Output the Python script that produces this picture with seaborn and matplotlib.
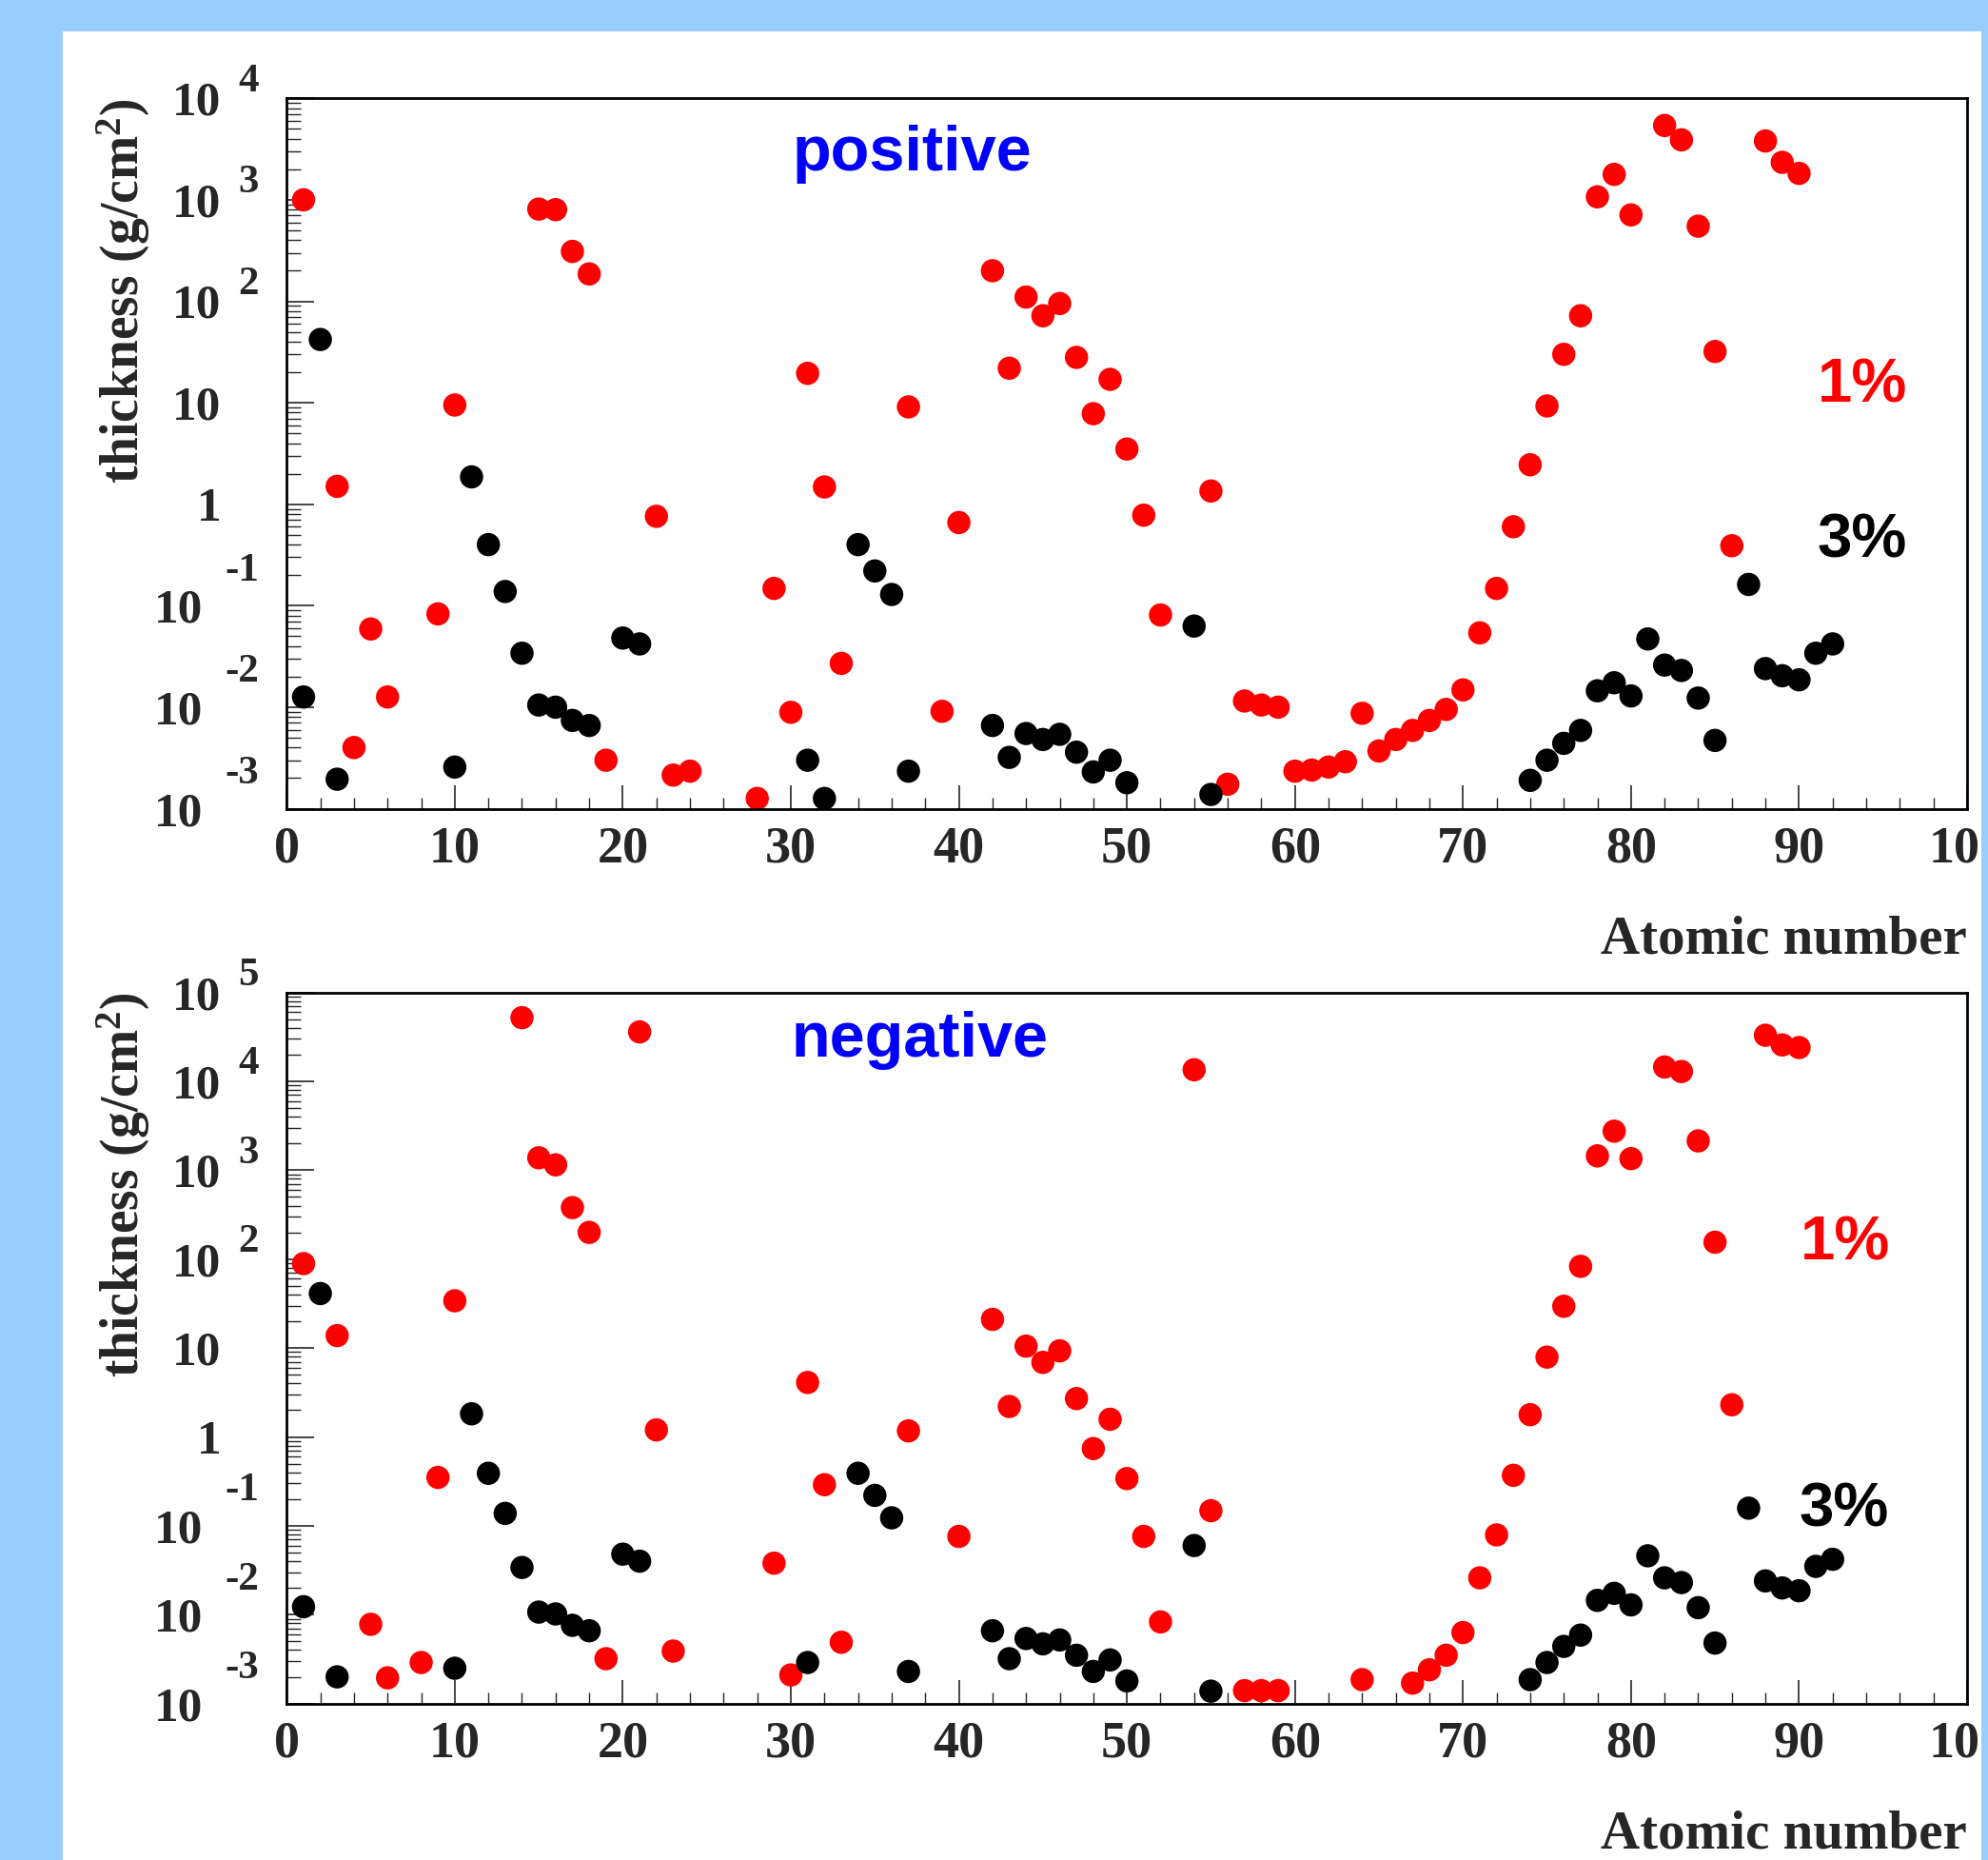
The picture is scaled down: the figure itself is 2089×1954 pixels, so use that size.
import pandas as pd
import seaborn as sns
import matplotlib.pyplot as plt
from matplotlib.patches import Rectangle
from matplotlib.transforms import offset_copy
from matplotlib.ticker import FixedLocator, NullFormatter, MultipleLocator, LogLocator

# ---- data (atomic number Z, thickness in g/cm^2) ----
pos_z_1pct = [1, 3, 4, 5, 6, 9, 10, 15, 16, 17, 18, 19, 22, 23, 24, 28, 29, 30, 31, 32, 33,
              37, 39, 40, 42, 43, 44, 45, 46, 47, 48, 49, 50, 51, 52, 55, 56, 57, 58, 59,
              60, 61, 62, 63, 64, 65, 66, 67, 68, 69, 70, 71, 72, 73, 74, 75, 76, 77, 78,
              79, 80, 82, 83, 84, 85, 86, 88, 89, 90]
pos_t_1pct = [1000, 1.5, 0.0040, 0.059, 0.0126, 0.083, 9.5, 810, 800, 310, 186, 0.0030, 0.76,
              0.00214, 0.00234, 0.00126, 0.148, 0.0089, 19.5, 1.48, 0.027, 9.1, 0.0091, 0.66,
              200, 21.9, 110, 72, 95, 28, 7.8, 17, 3.5, 0.78, 0.081, 1.35, 0.00174, 0.0115,
              0.0105, 0.0100, 0.00234, 0.0024, 0.00257, 0.0029, 0.0087, 0.0037, 0.0048, 0.0059,
              0.0074, 0.0095, 0.0148, 0.054, 0.148, 0.60, 2.45, 9.3, 30, 72, 1070, 1780, 710,
              5400, 3900, 550, 32, 0.39, 3800, 2340, 1820]

pos_z_3pct = [1, 2, 3, 10, 11, 12, 13, 14, 15, 16, 17, 18, 20, 21, 31, 32, 34, 35, 36, 37,
              42, 43, 44, 45, 46, 47, 48, 49, 50, 54, 55, 74, 75, 76, 77, 78, 79, 80, 81, 82,
              83, 84, 85, 87, 88, 89, 90, 91, 92]
pos_t_3pct = [0.0126, 42, 0.00195, 0.00257, 1.86, 0.40, 0.138, 0.034, 0.0105, 0.0100, 0.0074,
              0.0066, 0.048, 0.042, 0.0030, 0.00126, 0.40, 0.22, 0.129, 0.00234, 0.0066,
              0.0032, 0.0055, 0.0048, 0.0054, 0.0036, 0.0023, 0.0030, 0.0018, 0.063, 0.00138,
              0.0019, 0.0030, 0.0044, 0.0059, 0.0145, 0.0174, 0.0129, 0.047, 0.026, 0.023,
              0.0123, 0.0047, 0.162, 0.024, 0.0204, 0.0186, 0.034, 0.042]

neg_z_1pct = [1, 3, 5, 6, 8, 9, 10, 14, 15, 16, 17, 18, 19, 21, 22, 23, 29, 30, 31, 32, 33,
              37, 40, 42, 43, 44, 45, 46, 47, 48, 49, 50, 51, 52, 54, 55, 57, 58, 59, 64,
              67, 68, 69, 70, 71, 72, 73, 74, 75, 76, 77, 78, 79, 80, 82, 83, 84, 85, 86,
              88, 89, 90]
neg_t_1pct = [89, 13.8, 0.0078, 0.00195, 0.0029, 0.35, 34, 52000, 1380, 1150, 380, 200,
              0.0032, 36000, 1.2, 0.0039, 0.038, 0.0021, 4.1, 0.29, 0.0049, 1.17, 0.076, 21,
              2.2, 10.5, 6.9, 9.3, 2.7, 0.74, 1.58, 0.34, 0.076, 0.0083, 13500, 0.148,
              0.0014, 0.0014, 0.0014, 0.00186, 0.0017, 0.0024, 0.0035, 0.0063, 0.026, 0.079,
              0.37, 1.78, 7.9, 29.5, 83, 1450, 2750, 1350, 14500, 12900, 2140, 155, 2.3,
              33000, 25700, 24000]

neg_z_3pct = [1, 2, 3, 10, 11, 12, 13, 14, 15, 16, 17, 18, 20, 21, 31, 34, 35, 36, 37, 42,
              43, 44, 45, 46, 47, 48, 49, 50, 54, 55, 74, 75, 76, 77, 78, 79, 80, 81, 82, 83,
              84, 85, 87, 88, 89, 90, 91, 92]
neg_t_3pct = [0.0123, 41, 0.0020, 0.0025, 1.82, 0.39, 0.138, 0.034, 0.0107, 0.0102, 0.0076,
              0.0066, 0.048, 0.040, 0.0029, 0.39, 0.22, 0.123, 0.0023, 0.0066, 0.0032,
              0.0054, 0.0047, 0.0052, 0.0035, 0.0023, 0.0031, 0.0018, 0.060, 0.00138,
              0.00186, 0.0029, 0.0044, 0.0059, 0.0145, 0.0174, 0.0129, 0.046, 0.026, 0.023,
              0.012, 0.0048, 0.158, 0.024, 0.020, 0.0186, 0.035, 0.042]

# decades shown on the y axes
pos_decades = [-3, -2, -1, 0, 1, 2, 3, 4]
neg_decades = [-3, -2, -1, 0, 1, 2, 3, 4, 5]

BG_BLUE = "#99CCFF"
SERIF = "Liberation Serif"
SANS = "Liberation Sans"

sns.set_style("ticks")
plt.rcParams["font.family"] = [SERIF, "DejaVu Serif"]
plt.rcParams["font.weight"] = "bold"
plt.rcParams["mathtext.fontset"] = "custom"
plt.rcParams["mathtext.rm"] = "Liberation Serif:bold"
plt.rcParams["mathtext.it"] = "Liberation Serif:bold"
plt.rcParams["mathtext.bf"] = "Liberation Serif:bold"


def to_frame(z1, t1, z3, t3):
    df1 = pd.DataFrame({"Z": z1, "thickness": t1, "level": "1%"})
    df3 = pd.DataFrame({"Z": z3, "thickness": t3, "level": "3%"})
    return pd.concat([df1, df3], ignore_index=True)


def root_ylabels(ax, decades):
    # ROOT style decade labels: "10" on the tick, exponent raised to the right
    trans = ax.get_yaxis_transform()
    for e in decades:
        y = 10.0 ** e
        if e in (0, 1):
            ax.text(-0.039, y, "1" if e == 0 else "10", transform=trans,
                    ha="right", va="center_baseline", fontsize=37, fontweight="bold",
                    family=SERIF, clip_on=False)
        elif e > 0:
            ax.text(-0.039, y, "10", transform=trans, ha="right", va="center_baseline",
                    fontsize=37, fontweight="bold", family=SERIF, clip_on=False)
            ax.text(-0.029, y, str(e), ha="left", va="center_baseline", fontsize=31,
                    fontweight="bold", family=SERIF, clip_on=False,
                    transform=offset_copy(trans, fig=ax.figure, y=22, units="dots"))
        else:
            ax.text(-0.050, y, "10", transform=trans, ha="right", va="center_baseline",
                    fontsize=37, fontweight="bold", family=SERIF, clip_on=False)
            ax.text(-0.0366, y, str(e), ha="left", va="center_baseline", fontsize=31,
                    fontweight="bold", family=SERIF, clip_on=False,
                    transform=offset_copy(trans, fig=ax.figure, y=41, units="dots"))


def draw_panel(ax, df, decades, title, pos_1, pos_3):
    sns.scatterplot(data=df, x="Z", y="thickness", hue="level",
                    palette={"1%": "#ff0000", "3%": "black"},
                    s=310, linewidth=0, legend=False, ax=ax)
    ax.set_yscale("log")
    ax.set_xlim(0, 100)
    ax.set_ylim(10.0 ** decades[0], 10.0 ** decades[-1])

    ax.yaxis.set_major_locator(FixedLocator([10.0 ** e for e in decades]))
    ax.yaxis.set_major_formatter(NullFormatter())
    ax.yaxis.set_minor_locator(LogLocator(base=10, subs=range(2, 10), numticks=50))
    ax.yaxis.set_minor_formatter(NullFormatter())
    ax.xaxis.set_major_locator(MultipleLocator(10))
    ax.xaxis.set_minor_locator(MultipleLocator(2))

    ax.tick_params(axis="x", which="major", direction="in", length=18, width=1.2,
                   labelsize=39, pad=13, top=False)
    ax.tick_params(axis="x", which="minor", direction="in", length=9, width=1.0, top=False)
    ax.tick_params(axis="y", which="major", direction="in", length=21, width=1.2, right=False)
    ax.tick_params(axis="y", which="minor", direction="in", length=11, width=1.0, right=False)
    for lbl in ax.get_xticklabels():
        lbl.set_fontweight("bold")
    for sp in ax.spines.values():
        sp.set_linewidth(2.0)
        sp.set_color("black")
    root_ylabels(ax, decades)

    ax.set_xlabel("Atomic number", fontsize=41, fontweight="bold", loc="right")
    ax.xaxis.set_label_coords(1.0, -0.150)
    ax.set_ylabel(r"thickness (g/cm$^{2}$)", fontsize=40, fontweight="bold", loc="top")
    ax.yaxis.set_label_coords(-0.08, 1.0)

    ax.text(title[1], title[2], title[0], transform=ax.transAxes, color="#0000ff",
            fontsize=48, fontweight="bold", family=SANS, ha="center", va="center")
    ax.text(pos_1[0], pos_1[1], "1%", transform=ax.transAxes, color="#ff0000",
            fontsize=47, fontweight="bold", family=SANS, ha="center", va="center")
    ax.text(pos_3[0], pos_3[1], "3%", transform=ax.transAxes, color="black",
            fontsize=47, fontweight="bold", family=SANS, ha="center", va="center")


W, H = 2089, 1954
fig = plt.figure(figsize=(W / 100, H / 100), dpi=100, facecolor=BG_BLUE)

# white canvas inside the blue frame, plus the thin blue strip on the right
fig.patches.append(Rectangle((66 / W, 0), (2082 - 66) / W, 1 - 33 / H,
                             transform=fig.transFigure, facecolor="white",
                             edgecolor="none", zorder=-10))
fig.patches.append(Rectangle((2082 / W, 0), 1 - 2082 / W, 1,
                             transform=fig.transFigure, facecolor=BG_BLUE,
                             edgecolor="none", zorder=10))

ax_top = fig.add_axes([301.3 / W, 1 - 849.5 / H, (2067 - 301.3) / W, 746.2 / H])
ax_bot = fig.add_axes([301.3 / W, 1 - 1789.7 / H, (2067 - 301.3) / W, 747.1 / H])

draw_panel(ax_top, to_frame(pos_z_1pct, pos_t_1pct, pos_z_3pct, pos_t_3pct), pos_decades,
           ("positive", 0.372, 0.922), (0.9375, 0.595), (0.9375, 0.376))
draw_panel(ax_bot, to_frame(neg_z_1pct, neg_t_1pct, neg_z_3pct, neg_t_3pct), neg_decades,
           ("negative", 0.377, 0.933), (0.9275, 0.647), (0.927, 0.272))

fig.savefig("out.png", dpi=100, facecolor=BG_BLUE)
